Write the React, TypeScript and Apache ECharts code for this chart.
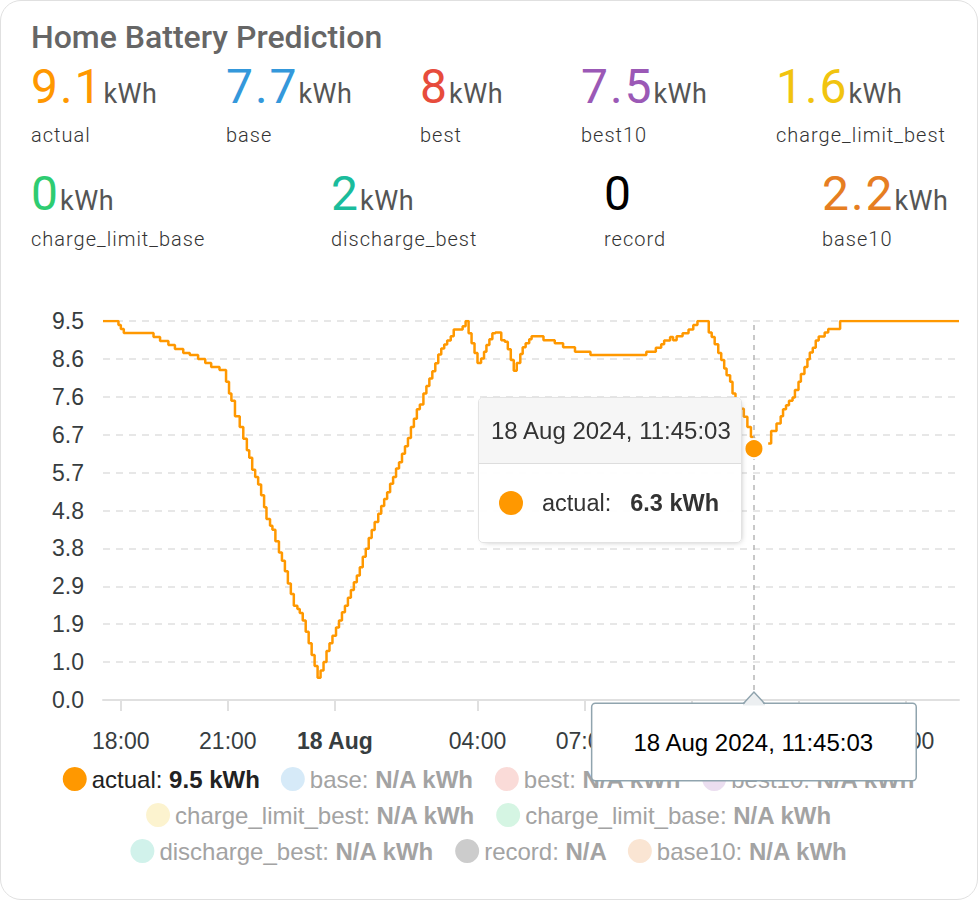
import React, { useEffect, useRef } from "react";
import * as echarts from "echarts";

const CHART_FONT = "'Liberation Sans', Arial, Helvetica, sans-serif";
const HEADER_FONT = "Roboto, 'Noto Sans', sans-serif";

// ---------- data ----------
const cardTitle = "Home Battery Prediction";

const seriesNames = [
  "actual",
  "base",
  "best",
  "best10",
  "charge_limit_best",
  "charge_limit_base",
  "discharge_best",
  "record",
  "base10",
];
const seriesColors = [
  "#ff9800",
  "#3498db",
  "#e74c3c",
  "#9b59b6",
  "#f1c40f",
  "#2ecc71",
  "#1abc9c",
  "#000000",
  "#e67e22",
];
const seriesUnits = ["kWh", "kWh", "kWh", "kWh", "kWh", "kWh", "kWh", "", "kWh"];

// header statistics (same order as seriesNames)
const statValues = [9.1, 7.7, 8, 7.5, 1.6, 0, 2, 0, 2.2];

// actual battery level, 17 Aug 2024 (change points of the step line)
const day17Times = [
  "17:30", "17:56", "18:00", "18:05", "18:55", "19:06", "19:20", "19:31", "19:45", "19:56",
  "20:10", "20:22", "20:32", "20:46", "20:57", "21:02", "21:06", "21:12", "21:20", "21:26",
  "21:32", "21:36", "21:41", "21:46", "21:51", "21:56", "22:01", "22:05", "22:11", "22:15",
  "22:20", "22:26", "22:31", "22:36", "22:41", "22:46", "22:51", "22:57", "23:01", "23:06",
  "23:11", "23:16", "23:21", "23:26", "23:31", "23:36", "23:41", "23:46", "23:51", "23:56",
];
const day17Values = [
  9.5, 9.4, 9.3, 9.2, 9.1, 9.0, 8.9, 8.8, 8.7, 8.65,
  8.55, 8.45, 8.35, 8.27, 7.98, 7.68, 7.5, 7.11, 6.84, 6.55,
  6.26, 6.07, 5.77, 5.59, 5.4, 5.13, 4.83, 4.54, 4.37, 4.27,
  3.98, 3.7, 3.49, 3.23, 2.92, 2.66, 2.36, 2.28, 2.18, 1.99,
  1.71, 1.42, 1.13, 0.85, 0.56, 0.74, 0.95, 1.23, 1.42, 1.61,
];

// actual battery level, 18 Aug 2024
const day18Times = [
  "00:02", "00:07", "00:12", "00:17", "00:22", "00:27", "00:32", "00:37", "00:42", "00:47",
  "00:52", "00:57", "01:02", "01:07", "01:13", "01:18", "01:23", "01:28", "01:33", "01:38",
  "01:43", "01:48", "01:53", "01:58", "02:03", "02:08", "02:13", "02:18", "02:23", "02:29",
  "02:34", "02:39", "02:44", "02:49", "02:54", "02:59", "03:04", "03:09", "03:15", "03:20",
  "03:35", "03:40", "03:45", "03:50", "03:55", "04:00", "04:06", "04:11", "04:15", "04:20",
  "04:25", "04:30", "04:40", "04:46", "04:51", "04:56", "05:01", "05:06", "05:12", "05:16",
  "05:21", "05:27", "05:31", "05:51", "06:10", "06:24", "06:44", "07:10", "08:44", "09:00",
  "09:09", "09:14", "09:24", "09:29", "09:35", "09:45", "09:55", "10:03", "10:10", "10:29",
  "10:34", "10:39", "10:45", "10:50", "10:55", "10:59", "11:05", "11:09", "11:14", "11:19",
  "11:28", "11:34", "11:40", "11:45:03", "11:50", "12:09", "12:14", "12:23", "12:30", "12:34",
  "12:39", "12:44", "12:50", "12:54", "13:00", "13:04", "13:10", "13:15", "13:19", "13:24",
  "13:29", "13:34", "13:44", "13:50", "14:10", "17:30",
];
const day18Values = [
  1.82, 1.99, 2.2, 2.36, 2.56, 2.76, 2.95, 3.12, 3.33, 3.59,
  3.79, 4.06, 4.26, 4.46, 4.67, 4.86, 5.04, 5.21, 5.42, 5.59,
  5.8, 5.96, 6.17, 6.36, 6.57, 6.84, 7.05, 7.29, 7.41, 7.68,
  7.87, 8.06, 8.24, 8.44, 8.66, 8.81, 8.91, 9.01, 9.12, 9.29,
  9.37, 9.5, 9.19, 8.94, 8.7, 8.45, 8.56, 8.73, 8.9, 9.04,
  9.19, 9.21, 9.02, 8.98, 8.79, 8.52, 8.25, 8.45, 8.67, 8.84,
  8.94, 9.04, 9.12, 9.02, 8.94, 8.84, 8.73, 8.65, 8.73, 8.83,
  8.92, 9.01, 9.1, 9.02, 9.12, 9.19, 9.29, 9.4, 9.5, 9.21,
  9.1, 8.92, 8.7, 8.52, 8.31, 8.14, 7.98, 7.68, 7.5, 7.3,
  7.1, 6.84, 6.59, 6.3, null, 6.43, 6.74, 6.93, 7.11, 7.29,
  7.39, 7.5, 7.58, 7.77, 7.98, 8.17, 8.35, 8.54, 8.71, 8.83,
  9.01, 9.11, 9.21, 9.3, 9.5, 9.5,
];

const hoverTime = "11:45:03"; // hovered point on 18 Aug

// x axis
const rangeStart = "17:30"; // 17 Aug
const rangeEnd = "17:30"; // 18 Aug
const xTickDay17 = ["18:00", "21:00"];
const xTickDay18 = ["00:00", "04:00", "07:00", "10:00", "13:00", "16:00"];

// y axis
const yMin = 0;
const yMax = 9.5;
const yStep = 0.95;

// ---------- layout (not data) ----------
const statLeft = [31, 226, 420, 581, 776, 31, 331, 604, 822];
const statRow = [0, 0, 0, 0, 0, 1, 1, 1, 1];
const valueTop = [62.6, 170.3];
const labelTop = [124.9, 229.2];

const MONTHS = ["Jan", "Feb", "Mar", "Apr", "May", "Jun", "Jul", "Aug", "Sep", "Oct", "Nov", "Dec"];

function ts(day: number, t: string): number {
  const [h, m, s] = t.split(":").map(Number);
  return new Date(2024, 7, day, h, m, s || 0).getTime();
}
const pad = (n: number) => (n < 10 ? "0" + n : "" + n);
function fullDate(v: number): string {
  const d = new Date(v);
  return `${d.getDate()} ${MONTHS[d.getMonth()]} ${d.getFullYear()}, ${pad(d.getHours())}:${pad(
    d.getMinutes()
  )}:${pad(d.getSeconds())}`;
}
function fade(hex: string, a: number): string {
  const n = parseInt(hex.slice(1), 16);
  const r = (n >> 16) & 255, g = (n >> 8) & 255, b = n & 255;
  const f = (c: number) => Math.round(255 - a * (255 - c));
  return `rgb(${f(r)},${f(g)},${f(b)})`;
}
const oneDecimal = (v: number) => (Math.round(v * 10 + 1e-6) / 10).toFixed(1);

const legendRows = [
  ["actual", "base", "best", "best10"],
  ["charge_limit_best", "charge_limit_base"],
  ["discharge_best", "record", "base10"],
];

export default function App() {
  const ref = useRef<HTMLDivElement>(null);

  useEffect(() => {
    if (!ref.current) return;
    const chart = echarts.init(ref.current, undefined, { renderer: "svg" });

    const actualData: any[] = [
      ...day17Times.map((t, i) => [ts(17, t), day17Values[i]]),
      ...day18Times.map((t, i) => [ts(18, t), day18Values[i] === null ? "-" : day18Values[i]]),
    ];
    const hoverIndex = day17Times.length + day18Times.indexOf(hoverTime);
    const hoverTs = ts(18, hoverTime);
    const hoverValue = day18Values[day18Times.indexOf(hoverTime)] as number;
    const lastActual = [...day17Values, ...day18Values].filter((v) => v !== null).slice(-1)[0] as number;

    const tickValues = [...xTickDay17.map((t) => ts(17, t)), ...xTickDay18.map((t) => ts(18, t))];

    const legendFormatter = (name: string) => {
      const i = seriesNames.indexOf(name);
      const unit = seriesUnits[i] ? " " + seriesUnits[i] : "";
      if (i === 0) return `{a|${name}: }{b|${oneDecimal(lastActual)}${unit}}`;
      return `{c|${name}: }{d|N/A${unit}}`;
    };

    const option: any = {
      animation: false,
      textStyle: { fontFamily: CHART_FONT },
      grid: { left: 103, right: 19, top: 321, bottom: 200, containLabel: false },
      xAxis: {
        type: "value",
        min: ts(17, rangeStart),
        max: ts(18, rangeEnd),
        scale: true,
        splitLine: { show: false },
        axisLine: { show: true, onZero: false, lineStyle: { color: "#e0e0e0", width: 2 } },
        axisTick: {
          show: true,
          customValues: tickValues,
          length: 11,
          lineStyle: { color: "#e0e0e0", width: 2 },
        },
        axisLabel: {
          customValues: tickValues,
          margin: 29,
          fontSize: 23,
          color: "#373d3f",
          fontFamily: CHART_FONT,
          formatter: (v: number) => {
            const d = new Date(v);
            if (d.getHours() === 0 && d.getMinutes() === 0) {
              return `{b|${d.getDate()} ${MONTHS[d.getMonth()]}}`;
            }
            return `${pad(d.getHours())}:${pad(d.getMinutes())}`;
          },
          rich: {
            b: { fontSize: 23, fontWeight: "bold", color: "#373d3f", fontFamily: CHART_FONT },
          },
        },
      },
      yAxis: {
        type: "value",
        min: yMin,
        max: yMax,
        interval: yStep,
        axisLine: { show: false },
        axisTick: { show: false },
        axisLabel: {
          margin: 19,
          fontSize: 23,
          color: "#373d3f",
          fontFamily: CHART_FONT,
          formatter: (v: number) => oneDecimal(v),
        },
        splitLine: { lineStyle: { color: "#e0e0e0", width: 1.5, type: [7, 6] } },
      },
      tooltip: {
        trigger: "axis",
        triggerOn: "none",
        alwaysShowContent: true,
        transitionDuration: 0,
        padding: 0,
        backgroundColor: "rgba(255,255,255,0.96)",
        borderColor: "#e3e3e3",
        borderWidth: 1,
        borderRadius: 5,
        extraCssText: "box-shadow: 2px 2px 6px -4px #999; overflow: hidden;",
        position: (point: number[], _p: any, _d: any, _r: any, size: any) => [
          point[0] - size.contentSize[0] - 12,
          point[1] - 52,
        ],
        formatter: (params: any) => {
          const p = Array.isArray(params) ? params.find((q: any) => q.seriesIndex === 0) || params[0] : params;
          const t = p.value[0];
          const v = p.value[1];
          return `<div style="width:262px;font-family:${CHART_FONT};color:#333;">
<div style="background:#f6f6f6;border-bottom:1px solid #ddd;height:65px;line-height:65px;padding:0 12px;font-size:24px;">${fullDate(
            t
          )}</div>
<div style="height:78px;display:flex;align-items:center;padding-left:20px;font-size:23.5px;">
<span style="display:inline-block;width:24px;height:24px;border-radius:50%;background:${seriesColors[0]};margin-right:19px;"></span>
<span>${p.seriesName}:</span><span style="font-weight:bold;margin-left:19px;">${oneDecimal(Number(v))} kWh</span>
</div></div>`;
        },
        axisPointer: {
          type: "line",
          z: 4,
          lineStyle: { color: "#b6b6b6", width: 1.5, type: [5, 5] },
          label: {
            show: true,
            margin: 4,
            padding: [26, 41],
            fontSize: 24,
            fontFamily: CHART_FONT,
            color: "#000",
            backgroundColor: "#fff",
            borderColor: "#90a4ae",
            borderWidth: 1.5,
            borderRadius: 3,
            shadowBlur: 0,
            formatter: (p: any) => fullDate(p.value),
          },
        },
      },
      legend: legendRows.map((row, r) => ({
        data: row.map((n) => {
          const i = seriesNames.indexOf(n);
          return { name: n, itemStyle: { color: i === 0 ? seriesColors[i] : fade(seriesColors[i], 0.2) } };
        }),
        left: "center",
        top: 762 + r * 36,
        icon: "circle",
        itemWidth: 24,
        itemHeight: 24,
        itemGap: 21,
        z: 2,
        selectedMode: false,
        formatter: legendFormatter,
        textStyle: {
          fontSize: 24,
          fontFamily: CHART_FONT,
          rich: {
            a: { fontSize: 24, color: "#222", fontFamily: CHART_FONT },
            b: { fontSize: 24, color: "#222", fontWeight: "bold", fontFamily: CHART_FONT },
            c: { fontSize: 24, color: "#a3a3a3", fontFamily: CHART_FONT },
            d: { fontSize: 24, color: "#a3a3a3", fontWeight: "bold", fontFamily: CHART_FONT },
          },
        },
      })),
      series: seriesNames.map((n, i) =>
        i === 0
          ? {
              name: n,
              type: "line",
              step: "end",
              data: actualData,
              showSymbol: false,
              connectNulls: false,
              lineStyle: { color: seriesColors[0], width: 2.5 },
              itemStyle: { color: seriesColors[0] },
              emphasis: { disabled: true },
              markPoint: {
                z: 10,
                silent: true,
                symbol: "circle",
                symbolSize: 19,
                itemStyle: { color: seriesColors[0], borderColor: "#fff", borderWidth: 2 },
                label: { show: false },
                data: [{ coord: [hoverTs, hoverValue] }],
              },
            }
          : {
              name: n,
              type: "line",
              data: [],
              itemStyle: { color: seriesColors[i] },
              lineStyle: { color: seriesColors[i] },
            }
      ),
    };

    chart.setOption(option);

    const px = chart.convertToPixel({ gridIndex: 0 }, [hoverTs, yMin]) as number[];
    const ax = px[0];
    const ay = px[1] + 4;
    chart.setOption({
      graphic: [
        {
          type: "polygon",
          z: 100,
          silent: true,
          shape: { points: [[ax - 11, ay + 1.5], [ax, ay - 12], [ax + 11, ay + 1.5]] },
          style: { fill: "#eceff1", stroke: "none" },
        },
        {
          type: "polyline",
          z: 101,
          silent: true,
          shape: { points: [[ax - 11, ay], [ax, ay - 12], [ax + 11, ay]] },
          style: { stroke: "#90a4ae", lineWidth: 1.5, fill: "none" },
        },
      ],
    });

    chart.dispatchAction({ type: "showTip", seriesIndex: 0, dataIndex: hoverIndex });

    return () => chart.dispose();
  }, []);

  return (
    <div>
      <div
        style={{
          position: "fixed",
          left: 0,
          top: 0,
          width: 978,
          height: 900,
          boxSizing: "border-box",
          border: "1.5px solid #e0e0e0",
          borderRadius: 21,
          background: "#fff",
        }}
      />
      <div style={{ position: "fixed", left: 0, top: 0, width: 978, height: 900 }}>
        <div ref={ref} style={{ position: "relative", width: 978, height: 900 }} />
      </div>
      <div
        style={{
          position: "fixed",
          left: 31,
          top: 21.1,
          fontFamily: HEADER_FONT,
          fontSize: 32,
          lineHeight: "32px",
          fontWeight: 500,
          color: "#666",
          whiteSpace: "nowrap",
        }}
      >
        {cardTitle}
      </div>
      {seriesNames.map((n, i) => (
        <React.Fragment key={n}>
          <div
            style={{
              position: "fixed",
              left: statLeft[i],
              top: valueTop[statRow[i]],
              fontFamily: HEADER_FONT,
              fontSize: 48,
              lineHeight: "48px",
              whiteSpace: "nowrap",
              letterSpacing: "0.04em",
            }}
          >
            <span style={{ color: seriesColors[i] }}>{String(statValues[i])}</span>
            {seriesUnits[i] ? (
              <span style={{ fontSize: 27, color: "#555", letterSpacing: "0.02em" }}>{seriesUnits[i]}</span>
            ) : null}
          </div>
          <div
            style={{
              position: "fixed",
              left: statLeft[i],
              top: labelTop[statRow[i]],
              fontFamily: HEADER_FONT,
              fontSize: 20,
              lineHeight: "20px",
              fontWeight: 300,
              color: "#333",
              whiteSpace: "nowrap",
              letterSpacing: "0.05em",
            }}
          >
            {n}
          </div>
        </React.Fragment>
      ))}
    </div>
  );
}
